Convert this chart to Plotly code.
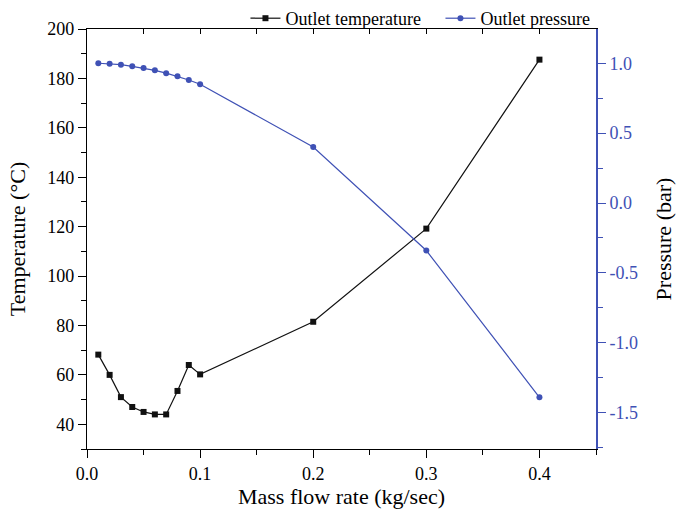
import plotly.graph_objects as go

# Mass flow rate (kg/sec)
flow = [0.01, 0.02, 0.03, 0.04, 0.05, 0.06, 0.07, 0.08, 0.09, 0.10, 0.20, 0.30, 0.40]
# Outlet temperature (°C)
temperature = [68.2, 60.0, 51.0, 47.0, 45.0, 44.0, 44.0, 53.5, 64.0, 60.2, 81.5, 119.2, 187.6]
# Outlet pressure (bar)
pressure = [1.0, 0.997, 0.99, 0.978, 0.966, 0.949, 0.929, 0.907, 0.88, 0.85, 0.40, -0.34, -1.39]

# Pressure axis ticks (plain hyphen for negatives)
pressure_ticks = [1.0, 0.5, 0.0, -0.5, -1.0, -1.5]
pressure_labels = ["1.0", "0.5", "0.0", "-0.5", "-1.0", "-1.5"]

BLUE = "#3f51b5"
FONT = "Liberation Serif"
TICK_SIZE = 18
TITLE_SIZE = 22

fig = go.Figure()
fig.add_trace(go.Scatter(
    x=flow, y=temperature, name="Outlet temperature", mode="lines+markers",
    line=dict(color="#111111", width=1.2), marker=dict(symbol="square", size=6, color="#111111"),
))
fig.add_trace(go.Scatter(
    x=flow, y=pressure, name="Outlet pressure", mode="lines+markers", yaxis="y2",
    line=dict(color=BLUE, width=1.2), marker=dict(symbol="circle", size=6, color=BLUE),
))
# invisible carrier so the top tick axis is drawn
fig.add_trace(go.Scatter(
    x=flow[:1], y=temperature[:1], xaxis="x2", mode="markers",
    marker=dict(opacity=0), showlegend=False, hoverinfo="skip",
))

fig.update_layout(
    width=679, height=519,
    margin=dict(l=87, r=83, t=29, b=70, autoexpand=False),
    paper_bgcolor="white", plot_bgcolor="white",
    font=dict(family=FONT, size=TICK_SIZE, color="black"),
    showlegend=True,
    legend=dict(orientation="h", xref="container", x=0.3615, xanchor="left",
                yref="container", y=1.0, yanchor="top", entrywidth=150,
                font=dict(size=18), bgcolor="rgba(0,0,0,0)", tracegroupgap=0),
    xaxis=dict(
        range=[0, 0.45], dtick=0.1, tickformat=".1f", showgrid=False, zeroline=False,
        showline=True, linecolor="black", linewidth=1.2, mirror=True,
        ticks="outside", ticklen=8, tickwidth=1.2, tickcolor="black",
        minor=dict(dtick=0.05, ticks="outside", ticklen=5, tickwidth=1.2, tickcolor="black"),
        title=dict(text="Mass flow rate (kg/sec)", font=dict(size=TITLE_SIZE), standoff=1),
        tickfont=dict(size=TICK_SIZE),
    ),
    xaxis2=dict(
        overlaying="x", side="top", anchor="y", range=[0, 0.45], dtick=0.05,
        showticklabels=False, showgrid=False, zeroline=False, showline=False,
        ticks="inside", ticklen=5, tickwidth=1.2, tickcolor="black",
    ),
    yaxis=dict(
        range=[30, 200], dtick=20, showgrid=False, zeroline=False,
        showline=True, linecolor="black", linewidth=1.2,
        ticks="outside", ticklen=8, tickwidth=1.2, tickcolor="black",
        minor=dict(dtick=10, ticks="outside", ticklen=5, tickwidth=1.2, tickcolor="black"),
        title=dict(text="Temperature (°C)", font=dict(size=TITLE_SIZE), standoff=15),
        tickfont=dict(size=TICK_SIZE),
    ),
    yaxis2=dict(
        overlaying="y", side="right", range=[-1.76, 1.245],
        tickvals=pressure_ticks, ticktext=pressure_labels,
        showgrid=False, zeroline=False,
        showline=True, linecolor=BLUE, linewidth=1.6,
        ticks="outside", ticklen=8, tickwidth=1.2, tickcolor=BLUE,
        minor=dict(dtick=0.25, tick0=0, ticks="outside", ticklen=5, tickwidth=1.2, tickcolor=BLUE),
        tickfont=dict(size=TICK_SIZE, color=BLUE),
        title=dict(text="Pressure (bar)", font=dict(size=TITLE_SIZE, color="black"), standoff=19),
    ),
)

fig.write_html("out.html")
